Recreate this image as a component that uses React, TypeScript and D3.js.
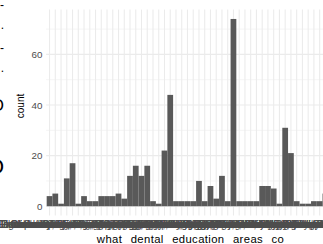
import React, { useEffect, useRef } from 'react'
import * as d3 from 'd3'

// answers to "what dental education areas co..." (labels unreadable in the source, they overlap)
const categories = [
  'Clinical skills only',
  'Clinical skills, Ethics',
  'Communication, Ethics',
  'Communication skills, Research',
  'Community dentistry, Prevention',
  'Dental materials, Radiology, Ethics',
  'Digital dentistry, Practice management',
  'Endodontics, Oral surgery, Prosthodontics',
  'Ethics and professionalism, Communication',
  'Evidence based dentistry, Research methods',
  'Implantology, Periodontology, Oral surgery',
  'Infection control, Radiology, Pharmacology',
  'Interprofessional education, Public health',
  'Leadership, Management, Communication skills',
  'Oral medicine, Oral pathology, Radiology, Ethics',
  'Oral surgery, Implantology, Clinical skills',
  'Orthodontics, Paediatric dentistry, Prevention',
  'Practice management, Business skills, Finance',
  'Prevention, Community dentistry, Public health',
  'Prosthodontics, Dental materials, Clinical skills',
  'Research methods, Evidence based dentistry',
  'All of the above',
  'Public health, Epidemiology, Prevention',
  'Radiology, Oral medicine, Clinical skills',
  'Special care dentistry, Geriatric dentistry',
  'Teaching methods, Assessment, Feedback',
  'Clinical skills, Communication skills',
  'Clinical skills, Practice management, Ethics',
  'Communication skills, Practice management',
  'Digital dentistry, Research methods, Radiology',
  'Practice management, Communication skills',
  'Ethics, Law, Professionalism, Communication',
  'Clinical skills',
  'Endodontics, Restorative dentistry, Clinical skills',
  'Geriatric dentistry, Special care, Communication',
  'Implantology, Digital dentistry, Prosthodontics',
  'Infection control, Patient safety, Ethics',
  'Communication skills',
  'Practice management',
  'Research methods',
  'Leadership, Teamwork, Management, Communication',
  'Clinical skills, Communication skills, Practice management',
  'Clinical skills, Practice management',
  'Oral surgery, Orthodontics, Implantology, Endodontics',
  'Paediatric dentistry, Orthodontics, Prevention',
  'Periodontology, Implantology, Oral medicine',
  'Prosthodontics, Restorative dentistry, Materials',
  'Public health, Community dentistry, Research',
  'None of the above',
  'Other, please specify',
]

const counts = [
  4, 5, 1, 11, 17, 1, 4, 2, 2, 4,
  4, 4, 5, 3, 12, 16, 12, 16, 2, 1,
  22, 44, 2, 2, 2, 2, 10, 2, 8, 3,
  12, 2, 74, 2, 2, 2, 2, 8, 8, 7,
  1, 31, 21, 2, 1, 1, 2, 2, 5, 2,
]

const yTicks = [0, 20, 40, 60]
const yMinorTicks = [10, 30, 50, 70]
const xTitle = 'what dental education areas co'
const yTitle = 'count'

// right edges of glyphs cut off at the left border of the picture
const edgeGlyphs = ['-', '.', '-', '.', 'O', 'O']
const edgeRows = [9, 29, 52, 72, 111, 174]
const edgeSizes = [12, 12, 12, 12, 17, 22]

const font = 'Liberation Sans, Arial, Helvetica, sans-serif'

function drawChart(node: SVGSVGElement) {
  const svg = d3.select(node)
  svg.selectAll('*').remove()

  const x = d3.scaleBand<string>()
    .domain(categories)
    .range([46.1, 334.6])
    .paddingInner(0)
    .paddingOuter(0.1)

  const y = d3.scaleLinear()
    .domain([-3.7, 77.7])
    .range([215.6, 9.6])

  const [x0, x1] = x.range()
  const [yb, yt] = y.range()

  // grid
  const grid = svg.append('g')
  grid.selectAll('.minor')
    .data(yMinorTicks)
    .enter()
    .append('line')
    .attr('x1', x0).attr('x2', x1)
    .attr('y1', (d) => y(d)).attr('y2', (d) => y(d))
    .attr('stroke', '#EBEBEB')
    .attr('stroke-width', 0.55)
  grid.selectAll('.major')
    .data(yTicks)
    .enter()
    .append('line')
    .attr('x1', x0).attr('x2', x1)
    .attr('y1', (d) => y(d)).attr('y2', (d) => y(d))
    .attr('stroke', '#EBEBEB')
    .attr('stroke-width', 1.07)
  grid.selectAll('.vert')
    .data(categories)
    .enter()
    .append('line')
    .attr('x1', (d) => x(d)! + x.bandwidth() / 2)
    .attr('x2', (d) => x(d)! + x.bandwidth() / 2)
    .attr('y1', yb).attr('y2', yt)
    .attr('stroke', '#EBEBEB')
    .attr('stroke-width', 1.07)

  // bars
  svg.append('g')
    .selectAll('rect')
    .data(categories)
    .enter()
    .append('rect')
    .attr('x', (d) => x(d)!)
    .attr('width', x.bandwidth())
    .attr('y', (d, i) => y(counts[i]))
    .attr('height', (d, i) => y(0) - y(counts[i]))
    .attr('fill', '#595959')

  // y tick labels
  svg.append('g')
    .selectAll('text')
    .data(yTicks)
    .enter()
    .append('text')
    .attr('x', 42.5)
    .attr('y', (d) => y(d))
    .attr('dy', '0.36em')
    .attr('text-anchor', 'end')
    .attr('font-family', font)
    .attr('font-size', 9.8)
    .attr('fill', '#4D4D4D')
    .text((d) => d)

  // x tick labels, all overlapping
  svg.append('g')
    .selectAll('text')
    .data(categories)
    .enter()
    .append('text')
    .attr('x', (d) => x(d)! + x.bandwidth() / 2)
    .attr('y', 228)
    .attr('text-anchor', 'middle')
    .attr('font-family', font)
    .attr('font-size', 10)
    .attr('fill', '#4D4D4D')
    .text((d) => d)

  // axis titles
  svg.append('text')
    .attr('x', (x0 + x1) / 2)
    .attr('y', 242.5)
    .attr('text-anchor', 'middle')
    .attr('font-family', font)
    .attr('font-size', 11.3)
    .style('word-spacing', '5px')
    .attr('textLength', 187)
    .attr('lengthAdjust', 'spacing')
    .attr('fill', '#000')
    .text(xTitle)

  svg.append('text')
    .attr('transform', 'translate(24,106) rotate(-90)')
    .attr('text-anchor', 'middle')
    .attr('font-family', font)
    .attr('font-size', 10)
    .attr('fill', '#000')
    .text(yTitle)

  // cut-off glyphs at the left border
  svg.append('g')
    .selectAll('text')
    .data(edgeGlyphs)
    .enter()
    .append('text')
    .attr('x', 4)
    .attr('y', (d, i) => edgeRows[i])
    .attr('text-anchor', 'end')
    .attr('font-family', font)
    .attr('font-size', (d, i) => edgeSizes[i])
    .attr('fill', '#000')
    .text((d) => d)
}

export default function App() {
  const ref = useRef<SVGSVGElement>(null)

  useEffect(() => {
    if (ref.current) drawChart(ref.current)
  }, [])

  return (
    <svg
      ref={ref}
      width={323}
      height={244}
      style={{ position: 'absolute', left: 0, top: 0, background: '#fff', overflow: 'hidden' }}
    />
  )
}
